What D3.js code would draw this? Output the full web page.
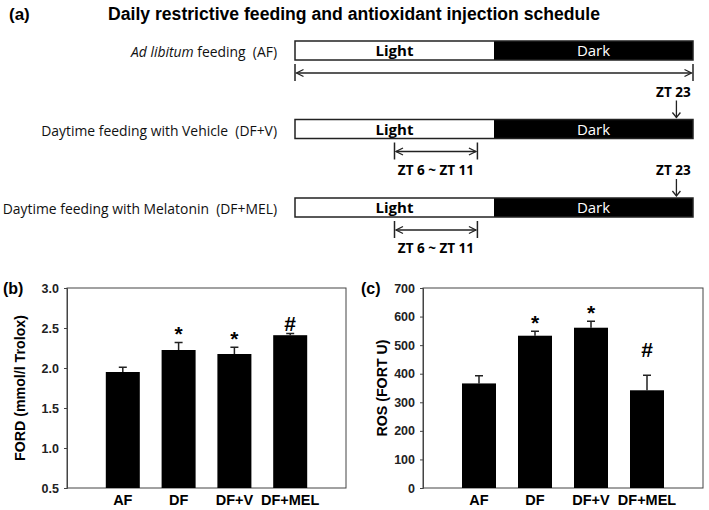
<!DOCTYPE html>
<html>
<head>
<meta charset="utf-8">
<script src="https://cdn.jsdelivr.net/npm/d3@7/dist/d3.min.js"></script>
<style>
  body { margin: 0; background: #fff; }
  text { font-family: "Liberation Sans", Arial, sans-serif; }
  .sched text { font-family: "Open Sans", "Noto Sans", sans-serif; }
</style>
</head>
<body>
<div id="container"></div>
<script>
// ---- schedule (panel a)
var rowLabels = ["feeding  (AF)", "Daytime feeding with Vehicle  (DF+V)", "Daytime feeding with Melatonin  (DF+MEL)"];
var rowItalic = ["Ad libitum", "", ""];
var phaseNames = ["Light", "Dark"];
var phaseStart = [0, 12];
var phaseEnd = [12, 24];
var feedStart = [0, 6, 6];
var feedEnd = [24, 11, 11];
var feedLabel = [false, true, true];
var injectZT = [null, 23, 23];

// ---- FORD (panel b)
var groups = ["AF", "DF", "DF+V", "DF+MEL"];
var fordMean = [1.95, 2.225, 2.175, 2.41];
var fordErr = [0.06, 0.095, 0.085, 0.02];
var fordMark = ["", "*", "*", "#"];
var fordTicks = [0.5, 1.0, 1.5, 2.0, 2.5, 3.0];

// ---- ROS (panel c)
var rosMean = [366, 533, 561, 342];
var rosErr = [27, 16, 23, 53];
var rosMark = ["", "*", "*", "#"];
var rosTicks = [0, 100, 200, 300, 400, 500, 600, 700];

var W = 709, H = 510;
var svg = d3.select("#container").append("svg")
    .attr("width", W).attr("height", H);

svg.append("defs").append("marker")
    .attr("id", "chev")
    .attr("viewBox", "-10 -5 12 10")
    .attr("refX", 0).attr("refY", 0)
    .attr("markerWidth", 12).attr("markerHeight", 10)
    .attr("markerUnits", "userSpaceOnUse")
    .attr("orient", "auto-start-reverse")
    .append("path")
    .attr("d", "M-7,-3.5 L0,0 L-7,3.5")
    .attr("fill", "none").attr("stroke", "#222").attr("stroke-width", 1.3);

svg.append("text").attr("x", 9).attr("y", 20)
    .style("font-size", "17px").style("font-weight", "bold").text("(a)");
svg.append("text").attr("x", 108).attr("y", 20)
    .attr("textLength", 492).attr("lengthAdjust", "spacingAndGlyphs")
    .style("font-size", "18px").style("font-weight", "bold")
    .text("Daily restrictive feeding and antioxidant injection schedule");

// schedule
var zt = d3.scaleLinear().domain([0, 24]).range([295, 693]);
var rowY = d3.scaleLinear().domain([0, 2]).range([41, 198]);
var barH = 19;
var sched = svg.append("g").attr("class", "sched");

rowLabels.forEach(function (lab, i) {
    var y0 = rowY(i);
    var g = sched.append("g");
    var t = g.append("text").attr("x", 277).attr("y", y0 + 16)
        .attr("text-anchor", "end").style("font-size", "13.9px")
        .style("white-space", "pre").attr("fill", "#111");
    if (rowItalic[i]) t.append("tspan").style("font-style", "italic").text(rowItalic[i] + " ");
    t.append("tspan").text(lab);

    phaseNames.forEach(function (p, j) {
        g.append("rect")
            .attr("x", zt(phaseStart[j])).attr("y", y0)
            .attr("width", zt(phaseEnd[j]) - zt(phaseStart[j])).attr("height", barH)
            .attr("fill", j === 0 ? "#fff" : "#000");
        g.append("text")
            .attr("x", zt((phaseStart[j] + phaseEnd[j]) / 2)).attr("y", y0 + 15)
            .attr("text-anchor", "middle").style("font-size", "15px")
            .style("font-weight", j === 0 ? "bold" : "normal")
            .attr("fill", j === 0 ? "#000" : "#fff").text(p);
    });
    g.append("rect").attr("x", zt(0)).attr("y", y0)
        .attr("width", zt(24) - zt(0)).attr("height", barH)
        .attr("fill", "none").attr("stroke", "#222").attr("stroke-width", 1.5);

    // feeding window
    var ay = y0 + barH + 13;
    [feedStart[i], feedEnd[i]].forEach(function (z) {
        g.append("line").attr("x1", zt(z)).attr("x2", zt(z))
            .attr("y1", ay - 9).attr("y2", ay + 8)
            .attr("stroke", "#222").attr("stroke-width", 1.5);
    });
    g.append("line").attr("x1", zt(feedStart[i]) + 1.5).attr("x2", zt(feedEnd[i]) - 1.5)
        .attr("y1", ay).attr("y2", ay)
        .attr("stroke", "#222").attr("stroke-width", 1.5)
        .attr("marker-start", "url(#chev)").attr("marker-end", "url(#chev)");
    if (feedLabel[i]) {
        g.append("text").attr("x", zt((feedStart[i] + feedEnd[i]) / 2)).attr("y", ay + 23)
            .attr("text-anchor", "middle").style("font-size", "13.5px").style("font-weight", "bold")
            .text("ZT " + feedStart[i] + " ~ ZT " + feedEnd[i]);
    }

    // injection arrow
    if (injectZT[i] !== null) {
        var x = zt(injectZT[i]);
        g.append("text").attr("x", x - 3).attr("y", y0 - 23)
            .attr("text-anchor", "middle").style("font-size", "13.5px").style("font-weight", "bold")
            .text("ZT " + injectZT[i]);
        g.append("line").attr("x1", x).attr("x2", x)
            .attr("y1", y0 - 19).attr("y2", y0 - 2)
            .attr("stroke", "#222").attr("stroke-width", 1.3);
        g.append("path")
            .attr("d", "M" + (x - 4) + "," + (y0 - 7) + " L" + x + "," + (y0 - 2) + " L" + (x + 4) + "," + (y0 - 7))
            .attr("fill", "none").attr("stroke", "#222").attr("stroke-width", 1.3);
    }
});

// bar panels
function barPanel(o) {
    var g = svg.append("g");
    var x = d3.scalePoint().domain(groups).range([o.left, o.right]).padding(1);
    var y = d3.scaleLinear().domain(o.domain).range([o.bottom, o.top]);
    var bw = 34;

    g.append("rect").attr("x", o.left).attr("y", o.top)
        .attr("width", o.right - o.left).attr("height", o.bottom - o.top)
        .attr("fill", "none").attr("stroke", "#444").attr("stroke-width", 1);

    var ax = g.append("g").attr("transform", "translate(" + o.left + ",0)")
        .call(d3.axisLeft(y).tickValues(o.ticks).tickSize(3).tickPadding(5).tickFormat(o.fmt));
    ax.select(".domain").attr("stroke", "#444");
    ax.selectAll("line").attr("stroke", "#444");
    ax.selectAll("text").style("font-size", "12.5px").style("font-weight", "bold")
        .style("font-family", "Liberation Sans, Arial, sans-serif").attr("fill", "#222");

    // error bars
    g.selectAll(".err").data(groups).enter().append("path")
        .attr("d", function (d, i) {
            var cx = x(d), t = y(o.mean[i] + o.err[i]);
            return "M" + cx + "," + y(o.mean[i]) + "V" + t + "M" + (cx - 4) + "," + t + "H" + (cx + 4);
        })
        .attr("fill", "none").attr("stroke", "#222").attr("stroke-width", 1.5);

    g.selectAll(".bar").data(groups).enter().append("rect")
        .attr("x", function (d) { return x(d) - bw / 2; })
        .attr("y", function (d, i) { return y(o.mean[i]); })
        .attr("width", bw)
        .attr("height", function (d, i) { return o.bottom - y(o.mean[i]); })
        .attr("fill", "#000");

    g.selectAll(".mk").data(groups).enter().append("text")
        .attr("x", function (d) { return x(d); })
        .attr("y", function (d, i) { return y(o.mean[i] + o.err[i]) - o.markGap[i]; })
        .attr("text-anchor", "middle").style("font-size", "21px").style("font-weight", "bold")
        .text(function (d, i) { return o.marks[i]; });

    g.selectAll(".xl").data(groups).enter().append("text")
        .attr("x", function (d) { return x(d); }).attr("y", 505)
        .attr("text-anchor", "middle").style("font-size", "14.5px").style("font-weight", "bold")
        .text(function (d) { return d; });

    g.append("text")
        .attr("transform", "translate(" + o.labelX + "," + ((o.top + o.bottom) / 2) + ") rotate(-90)")
        .attr("text-anchor", "middle").style("font-size", "14.2px").style("font-weight", "bold")
        .text(o.ylabel);

    g.append("text").attr("x", o.tagX).attr("y", o.top + 6)
        .style("font-size", "16px").style("font-weight", "bold").text(o.tag);
}

barPanel({
    left: 67, right: 346, top: 288, bottom: 488,
    domain: [0.5, 3.0], ticks: fordTicks, fmt: d3.format(".1f"),
    mean: fordMean, err: fordErr, marks: fordMark, markGap: [2, 1, 1, 3],
    ylabel: "FORD (mmol/l Trolox)", labelX: 25, tag: "(b)", tagX: 3
});

barPanel({
    left: 423, right: 703, top: 288, bottom: 488,
    domain: [0, 700], ticks: rosTicks, fmt: d3.format("d"),
    mean: rosMean, err: rosErr, marks: rosMark, markGap: [2, 1, 1, 18],
    ylabel: "ROS (FORT U)", labelX: 387, tag: "(c)", tagX: 361
});
</script>
</body>
</html>
